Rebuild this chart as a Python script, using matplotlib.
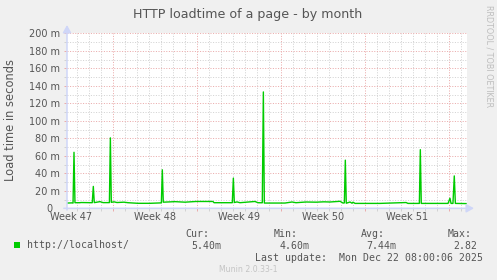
import matplotlib.pyplot as plt
from matplotlib.patches import Rectangle
from matplotlib.ticker import MultipleLocator, FuncFormatter

# ---- data: days since Mon 17 Nov 2025 (start of week 47), load time in ms ----
t_days = [3.17, 3.58, 3.67, 3.75, 3.83, 4.25, 4.33, 5.27, 5.36, 5.44,
          5.92, 6.17, 6.70, 6.78, 6.86, 7.08, 7.33, 7.92, 8.25, 9.08,
          10.08, 11.03, 11.11, 11.19, 12.17, 13.00, 13.92, 15.33, 15.42, 16.94,
          17.03, 17.11, 17.33, 17.58, 18.83, 19.08, 19.44, 19.53, 19.61, 21.33,
          21.92, 22.25, 23.08, 23.92, 24.58, 25.08, 25.92, 26.17, 26.28, 26.36,
          26.44, 26.75, 26.92, 27.00, 27.17, 29.25, 31.42, 31.58, 32.53, 32.61,
          32.69, 34.92, 35.08, 35.17, 35.33, 35.44, 35.53, 36.42]
load_ms = [6.0, 6.2, 6.0, 64.0, 6.4, 6.4, 6.6, 6.4, 25.0, 6.5,
           7.6, 6.5, 6.5, 80.5, 6.8, 7.4, 6.6, 7.0, 6.4, 5.7,
           5.7, 6.2, 44.0, 7.0, 7.6, 7.0, 7.8, 7.8, 6.4, 6.4,
           34.5, 6.6, 7.3, 6.4, 7.8, 6.4, 6.3, 133.0, 6.0, 6.0,
           7.2, 6.4, 7.2, 7.0, 7.4, 7.2, 8.0, 6.0, 6.2, 55.0,
           5.8, 7.2, 5.8, 7.0, 5.6, 5.6, 6.6, 5.6, 5.6, 67.0,
           5.6, 5.6, 11.5, 5.6, 5.6, 37.0, 5.6, 5.4]

window = (3.1667, 36.5)          # 400 px at 2 h per px
week_labels = ["Week 47", "Week 48", "Week 49", "Week 50", "Week 51"]
week_mid = [3.5, 10.5, 17.5, 24.5, 31.5]

series_name = "http://localhost/"
stats_head = ["Cur:", "Min:", "Avg:", "Max:"]
stats_val = ["5.40m", "4.60m", "7.44m", "2.82"]
last_update = "Last update:  Mon Dec 22 08:00:06 2025"

W, H = 497, 280
BG, TXT, AXC = "#F0F0F0", "#555555", "#CFD6F8"
GREEN = "#00CC00"
MAJ, MIN = "#EAAAAA", "#D2D2D2"
MONO = "DejaVu Sans Mono"


def fx(px):
    return px / W


def fy(py):
    return 1 - py / H


fig = plt.figure(figsize=(W / 100, H / 100), dpi=100, facecolor=BG)
ax = fig.add_axes([fx(67), fy(208.3), 400 / W, 175 / H])
ax.set_facecolor("white")

ax.plot(t_days, load_ms, color=GREEN, lw=1.0, zorder=3)

ax.set_xlim(*window)
ax.set_ylim(0, 200)

# grid: days / weeks, 10 m / 20 m, dotted
ax.xaxis.set_major_locator(MultipleLocator(7))
ax.xaxis.set_minor_locator(MultipleLocator(1))
ax.yaxis.set_major_locator(MultipleLocator(20))
ax.yaxis.set_minor_locator(MultipleLocator(10))
ax.grid(which="minor", color=MIN, lw=0.72, ls=(0, (1, 1.6)))
ax.grid(which="major", color=MAJ, lw=0.72, ls=(0, (1, 1.6)))
ax.set_axisbelow(True)

ax.xaxis.set_major_formatter(FuncFormatter(lambda v, _: ""))
ax.yaxis.set_major_formatter(FuncFormatter(lambda v, _: "0  " if v == 0 else f"{v:.0f} m"))
ax.tick_params(axis="both", which="major", length=2, width=0.7, color=MAJ,
               labelsize=7, labelcolor=TXT, pad=3.2)
ax.tick_params(axis="both", which="minor", length=2, width=0.7, color=MIN)

for s in ax.spines.values():
    s.set_visible(False)

# axis lines with arrows
arrow = dict(arrowstyle="-|>,head_length=0.45,head_width=0.25", color=AXC, lw=1.1,
             shrinkA=0, shrinkB=0)
ax.annotate("", xy=(0, (208.3 - 25) / 175), xytext=(0, -0.01),
            xycoords="axes fraction", arrowprops=arrow, annotation_clip=False)
ax.annotate("", xy=((474 - 67) / 400, 0), xytext=(-0.008, 0),
            xycoords="axes fraction", arrowprops=arrow, annotation_clip=False)

# week labels centred mid-week
for t, lab in zip(week_mid, week_labels):
    ax.text(t, -11.7 / 175, lab, transform=ax.get_xaxis_transform(),
            ha="center", va="baseline", fontsize=7, color=TXT)

fig.text(fx(248), fy(18.3), "HTTP loadtime of a page - by month",
         ha="center", va="baseline", fontsize=9.1, color=TXT)
fig.text(fx(10.7), fy(120), "Load time in seconds", rotation=90,
         ha="center", va="center", fontsize=8.3, color=TXT)
fig.text(fx(489), fy(56), "RRDTOOL / TOBI OETIKER", rotation=270,
         ha="center", va="center", fontsize=5.8, color="#BEBEBE")

# legend
fig.patches.append(Rectangle((fx(14), fy(248)), 6 / W, 6 / H, transform=fig.transFigure,
                             facecolor=GREEN, edgecolor="none"))
fig.text(fx(26.7), fy(248.5), series_name, family=MONO, fontsize=7.1,
         color=TXT, va="baseline")
for x_h, head, val in zip([185.7, 273.3, 360.7, 447.3], stats_head, stats_val):
    fig.text(fx(x_h), fy(237.3), head, family=MONO, fontsize=7.1, color=TXT, va="baseline")
    fig.text(fx(x_h + 6), fy(248.8), val, family=MONO, fontsize=7.1, color=TXT, va="baseline")
fig.text(fx(483.3), fy(261), last_update, family=MONO, fontsize=7.1,
         color=TXT, ha="right", va="baseline")
fig.text(fx(248.5), fy(271.5), "Munin 2.0.33-1", ha="center", va="baseline",
         fontsize=5.6, color="#C4C4C4")

fig.savefig("out.png", dpi=100, facecolor=BG)
